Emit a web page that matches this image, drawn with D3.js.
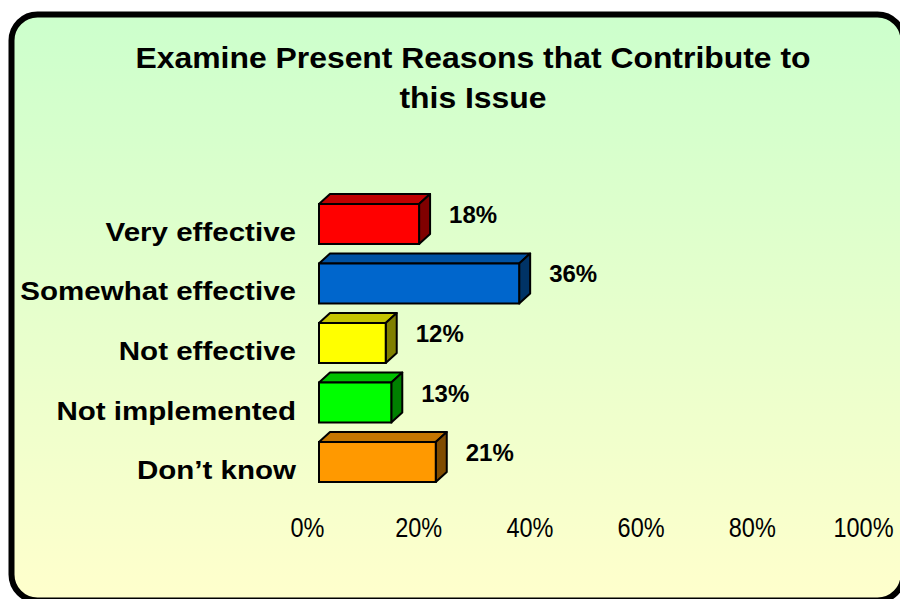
<!DOCTYPE html>
<html>
<head>
<meta charset="utf-8">
<script src="https://d3js.org/d3.v7.min.js"></script>
<style>
  html, body { margin: 0; padding: 0; background: #ffffff; }
  svg { display: block; }
</style>
</head>
<body>
<script>
const categories = ["Very effective", "Somewhat effective", "Not effective", "Not implemented", "Don\u2019t know"];
const values = [18, 36, 12, 13, 21];
const tickValues = [0, 20, 40, 60, 80, 100];
const titleLines = ["Examine Present Reasons that Contribute to", "this Issue"];
const frontColors = ["#ff0000", "#0066cc", "#ffff00", "#00ff00", "#ff9900"];
const topColors   = ["#c00000", "#0052a3", "#c4c400", "#00c000", "#c47600"];
const sideColors  = ["#800000", "#003366", "#808000", "#008000", "#804c00"];

const W = 900, H = 599;
const svg = d3.select("body").append("svg").attr("width", W).attr("height", H);

const defs = svg.append("defs");
const grad = defs.append("linearGradient").attr("id", "bg").attr("x1", 0).attr("y1", 0).attr("x2", 0).attr("y2", 1);
grad.append("stop").attr("offset", "0%").attr("stop-color", "#ccffcc");
grad.append("stop").attr("offset", "100%").attr("stop-color", "#ffffcc");

svg.append("rect").attr("x", 11.5).attr("y", 14.5).attr("width", 892).attr("height", 586)
  .attr("rx", 26).attr("ry", 26)
  .attr("fill", "url(#bg)").attr("stroke", "#000").attr("stroke-width", 6);

// title
const title = svg.append("g").attr("transform", "translate(473,0)");
titleLines.forEach((t, i) => {
  title.append("text")
    .attr("transform", `translate(0,${68 + i * 40}) scale(1.1,1)`)
    .attr("text-anchor", "middle")
    .attr("font-family", "Liberation Sans, Arial, sans-serif")
    .attr("font-weight", "bold").attr("font-size", 29)
    .attr("fill", "#000").text(t);
});

const x = d3.scaleLinear().domain([0, 100]).range([319, 875]);
const y = d3.scaleBand().domain(categories).range([204, 482]).paddingInner(0.328).paddingOuter(0);
const dx = 11, dy = -10;

const bars = svg.append("g").selectAll("g").data(categories).join("g");
bars.each(function(c, i) {
  const g = d3.select(this);
  const x0 = x(0), x1 = x(values[i]);
  const y0 = y(c), y1 = y(c) + y.bandwidth();
  g.append("path")
    .attr("d", `M${x0},${y0}L${x0 + dx},${y0 + dy}L${x1 + dx},${y0 + dy}L${x1},${y0}Z`)
    .attr("fill", topColors[i]).attr("stroke", "#000").attr("stroke-width", 2).attr("stroke-linejoin", "round");
  g.append("path")
    .attr("d", `M${x1},${y0}L${x1 + dx},${y0 + dy}L${x1 + dx},${y1 + dy}L${x1},${y1}Z`)
    .attr("fill", sideColors[i]).attr("stroke", "#000").attr("stroke-width", 2).attr("stroke-linejoin", "round");
  g.append("rect")
    .attr("x", x0).attr("y", y0).attr("width", x1 - x0).attr("height", y1 - y0)
    .attr("fill", frontColors[i]).attr("stroke", "#000").attr("stroke-width", 2);
  g.append("text")
    .attr("x", x1 + 54).attr("y", (y0 + y1) / 2 - 1)
    .attr("text-anchor", "middle")
    .attr("font-family", "Liberation Sans, Arial, sans-serif")
    .attr("font-weight", "bold").attr("font-size", 24)
    .attr("fill", "#000").text(values[i] + "%");
  g.append("text")
    .attr("transform", `translate(296,${(y0 + y1) / 2 + 17}) scale(1.115,1)`)
    .attr("text-anchor", "end")
    .attr("font-family", "Liberation Sans, Arial, sans-serif")
    .attr("font-weight", "bold").attr("font-size", 26.5)
    .attr("fill", "#000").text(c);
});

// x axis
const axis = d3.axisBottom(x).tickValues(tickValues).tickFormat(d => d + "%").tickSize(0).tickPadding(0);
const ax = svg.append("g").attr("transform", "translate(-12,518)").call(axis);
ax.select(".domain").remove();
ax.selectAll(".tick text")
  .attr("font-family", "Liberation Sans, Arial, sans-serif")
  .attr("font-size", 27).attr("fill", "#000")
  .attr("y", 0).attr("dy", "0.72em")
  .attr("transform", "scale(0.87,1)");
</script>
</body>
</html>
